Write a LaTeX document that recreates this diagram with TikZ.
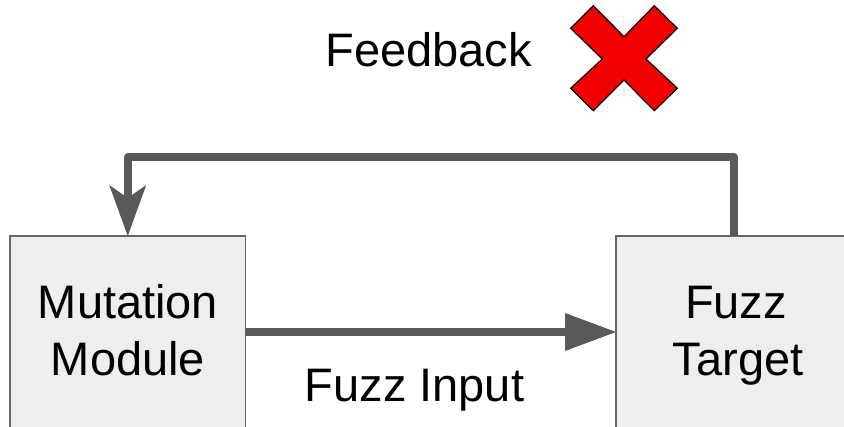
\documentclass[tikz,border=0pt]{standalone}
\usepackage{fontspec}
\setmainfont{Liberation Sans}
\usetikzlibrary{arrows.meta}
\definecolor{linegray}{HTML}{595959}
\definecolor{boxfill}{HTML}{EEEEEE}
\definecolor{boxline}{HTML}{666666}
\definecolor{xred}{HTML}{F20000}
\begin{document}
\begin{tikzpicture}[x=1pt,y=-1pt,
  box/.style={draw=boxline, line width=1.5pt, fill=boxfill, minimum height=192pt, inner sep=0pt, outer sep=0pt, anchor=north west},
  lbl/.style={font=\fontsize{47}{56}\selectfont, anchor=base, inner sep=0pt},
  conn/.style={draw=linegray, line width=8pt, line join=round}]
\useasboundingbox (0,0) rectangle (844,427);
\clip (0,0) rectangle (844,427);
\fill[white] (0,0) rectangle (844,427);
% boxes
\node[box, minimum width=235.5pt] (mm) at (10,236) {};
\node[box, minimum width=244pt] (ft) at (616,236) {};
% labels
\node[lbl] (mm1) at (128,319) {Mutation};
\node[lbl] (mm2) at (128,376) {Module};
\node[lbl] (ft1) at (736,319) {Fuzz};
\node[lbl] (ft2) at (738,376) {Target};
\node[lbl] (fb) at (428.5,66.7) {Feedback};
\node[lbl] (fi) at (414.5,402) {Fuzz Input};
% connectors
\draw[conn, -{Triangle[length=51pt,width=38pt,line width=0pt]}] (mm.east) -- (ft.west);
\draw[conn, -{Stealth[length=51pt,width=37pt,inset=13pt,line width=0pt]}]
  ([xshift=-4pt]ft.north) -- ++(0,-78.5) -| (mm.north);
% red cross
\draw[fill=xred, draw=black, line width=1.2pt, line join=miter]
  (593.3,5.7) -- (624,36.7) -- (654.3,5.7) -- (677.3,28.3) -- (646,59) --
  (677.3,88.3) -- (654.3,110.7) -- (624,80) -- (593.3,110.7) -- (570.7,88.3) --
  (602.3,59) -- (570.7,28.3) -- cycle;
\end{tikzpicture}
\end{document}
